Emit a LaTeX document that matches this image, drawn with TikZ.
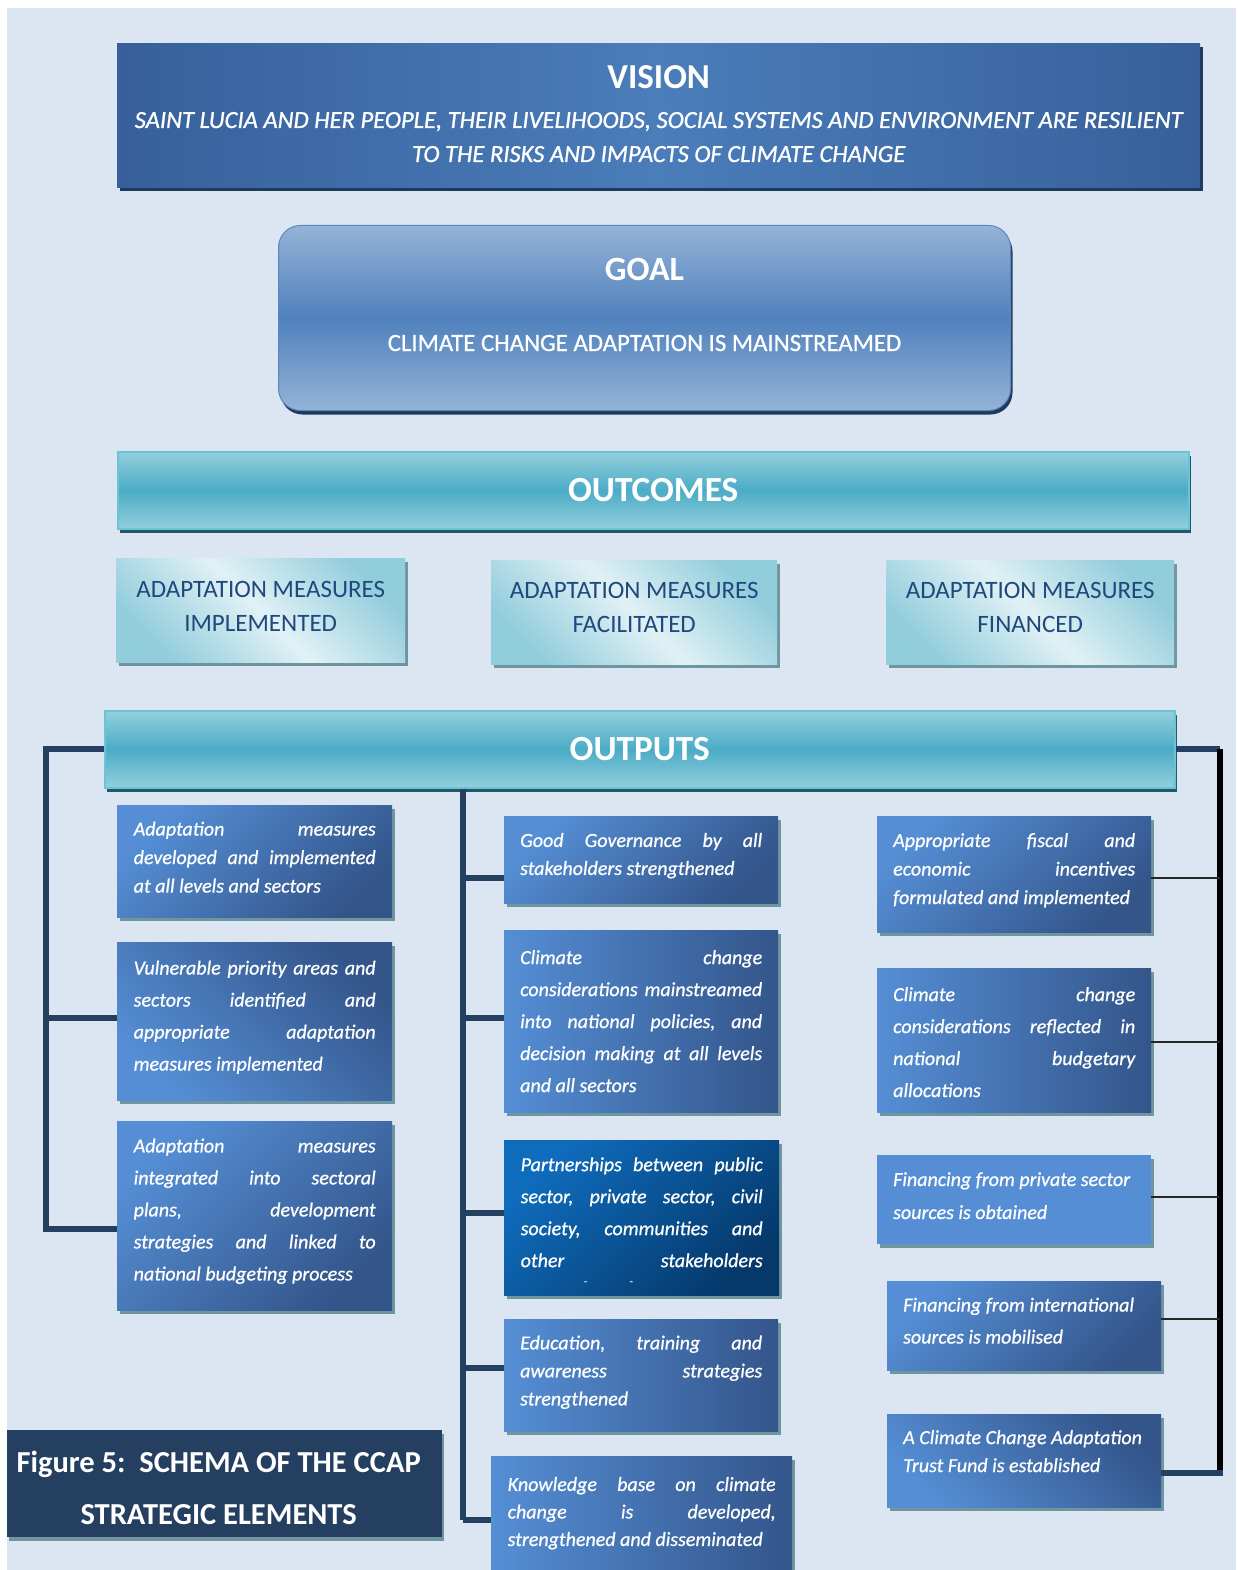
\documentclass[tikz,border=0pt]{standalone}
\usepackage{fontspec}
\setmainfont{Carlito}
\newfontfamily\medfam{Carlito}[FakeBold=0.7]
\newfontfamily\semifam{Carlito}[FakeBold=1.0]
\usetikzlibrary{shadows,calc}
\definecolor{bgc}{HTML}{DCE6F2}
\definecolor{navy}{HTML}{243F60}
\definecolor{visdark}{HTML}{37609A}
\definecolor{vislight}{HTML}{4A7DBA}
\definecolor{visshadow}{HTML}{1F3A5F}
\definecolor{goaltop}{HTML}{95B3D7}
\definecolor{goalmid}{HTML}{4F81BD}
\definecolor{goaledge}{HTML}{5A86BC}
\definecolor{barlight}{HTML}{93CFDD}
\definecolor{barmid}{HTML}{4BACC6}
\definecolor{baredge}{HTML}{6CC3D6}
\definecolor{barshadow}{HTML}{215968}
\definecolor{octeal}{HTML}{92CDDC}
\definecolor{oclight}{HTML}{E1F1F5}
\definecolor{octext}{HTML}{1F497D}
\definecolor{lightb}{HTML}{558ED5}
\definecolor{darkb}{HTML}{33558A}
\definecolor{deepa}{HTML}{0F6CBD}
\definecolor{deepb}{HTML}{05396B}
\definecolor{shadc}{HTML}{6F96A0}
\newcommand\jl[2][242pt]{\leavevmode\hbox to #1{\frenchspacing\spaceskip=0pt\xspaceskip=0pt #2}}
\newcommand\nl[1]{\leavevmode\hbox{\frenchspacing\spaceskip=0pt\xspaceskip=0pt #1}}
\newcommand\upby[1]{\par\vspace*{#1}}
\tikzset{
  boxbase/.style={rectangle, inner sep=0pt, anchor=north west},
  obox/.style={boxbase, text=white, align=left, text width=242pt,
    drop shadow={shadow xshift=3pt, shadow yshift=-4pt, fill=shadc, opacity=1}},
  lsk/.style={font=\medfam\itshape\fontsize{20}{#1}\selectfont},
  tlbr/.style={top color=lightb, bottom color=darkb, shading angle=45},
  bltr/.style={top color=darkb, bottom color=lightb, shading angle=-45},
  horiz/.style={left color=lightb, right color=darkb},
  flat/.style={fill=lightb},
  deep/.style={top color=deepa, bottom color=deepb, shading angle=45},
  bar/.style={boxbase, top color=barlight, bottom color=barlight, middle color=barmid,
    draw=baredge, line width=1.5pt, text=white, font=\bfseries\fontsize{35.3}{35}\selectfont,
    drop shadow={shadow xshift=2pt, shadow yshift=-4pt, fill=barshadow, opacity=1}},
  ocbox/.style={boxbase, top color=octeal, bottom color=octeal, middle color=oclight,
    shading angle=-45, text=octext, align=center, text width=280pt, font=\fontsize{25}{34}\selectfont,
    drop shadow={shadow xshift=3pt, shadow yshift=-4pt, fill=shadc, opacity=1}},
  navyline/.style={draw=navy, line width=6pt},
  blackline/.style={draw=black, line width=6pt},
  thinline/.style={draw=black!85, line width=1.8pt},
}
\begin{document}
\begin{tikzpicture}[x=1pt,y=-1pt]
\useasboundingbox (0,0) rectangle (1238,1570);
\fill[white] (0,0) rectangle (1238,1570);
\fill[bgc] (7,8) rectangle (1236,1575);

% VISION
\node[boxbase, minimum width=1083pt, minimum height=144pt,
  left color=visdark, right color=visdark, middle color=vislight,
  drop shadow={shadow xshift=3pt, shadow yshift=-4pt, fill=visshadow, opacity=1}]
  (vision) at (117,43) {};
\node[anchor=base, text=white, font=\bfseries\fontsize{35}{35}\selectfont]
  (visiont) at ($(vision.north)+(0,46)$) {VISION};
\node[anchor=base, text=white, font=\semifam\itshape\fontsize{24.6}{24}\selectfont]
  (visiona) at ($(vision.north)+(0,85)$) {SAINT LUCIA AND HER PEOPLE, THEIR LIVELIHOODS, SOCIAL SYSTEMS AND ENVIRONMENT ARE RESILIENT};
\node[anchor=base, text=white, font=\semifam\itshape\fontsize{24.6}{24}\selectfont]
  (visionb) at ($(vision.north)+(0,119)$) {TO THE RISKS AND IMPACTS OF CLIMATE CHANGE};

% GOAL
\node[boxbase, minimum width=732pt, minimum height=185pt, rounded corners=22pt,
  top color=goaltop, bottom color=goaltop, middle color=goalmid, draw=goaledge, line width=1pt,
  drop shadow={shadow xshift=2pt, shadow yshift=-4pt, fill=visshadow, opacity=1}]
  (goal) at (278,225) {};
\node[anchor=base, text=white, font=\bfseries\fontsize{34}{34}\selectfont]
  (goalt) at ($(goal.north)+(0,55)$) {GOAL};
\node[anchor=base, text=white, font=\medfam\fontsize{24.8}{24.8}\selectfont]
  (goala) at ($(goal.north)+(0,126)$) {CLIMATE CHANGE ADAPTATION IS MAINSTREAMED};

% OUTCOMES
\node[bar, minimum width=1071pt, minimum height=77pt] (outcomes) at (117,451) {OUTCOMES};
\node[ocbox, minimum width=289pt, minimum height=104pt] (oc1) at (116,558) {\nl{ADAPTATION MEASURES}\\\nl{IMPLEMENTED}\upby{8pt}};
\node[ocbox, minimum width=286pt, minimum height=104pt] (oc2) at (491,560) {\nl{ADAPTATION MEASURES}\\\nl{FACILITATED}\upby{10pt}};
\node[ocbox, minimum width=288pt, minimum height=104pt] (oc3) at (886,560) {\nl{ADAPTATION MEASURES}\\\nl{FINANCED}\upby{10pt}};

% OUTPUTS
\node[bar, minimum width=1070pt, minimum height=77pt] (outputs) at (104,710) {OUTPUTS};

% left column
\node[obox, tlbr, lsk=28.5, minimum width=275pt, minimum height=112pt] (L1) at (117,805)
  {\jl{Adaptation measures}\\\jl{developed and implemented}\\\nl{at all levels and sectors}\upby{8pt}};
\node[obox, bltr, lsk=32, minimum width=275pt, minimum height=158pt] (L2) at (117,942)
  {\jl{Vulnerable priority areas and}\\\jl{sectors identified and}\\\jl{appropriate adaptation}\\\nl{measures implemented}\upby{8pt}};
\node[obox, tlbr, lsk=32, minimum width=275pt, minimum height=189pt] (L3) at (117,1121)
  {\jl{Adaptation measures}\\\jl{integrated into sectoral}\\\jl{plans, development}\\\jl{strategies and linked to}\\\nl{national budgeting process}\upby{9pt}};

% middle column
\node[obox, tlbr, lsk=28, minimum width=274pt, minimum height=87pt] (M1) at (504,816)
  {\jl{Good Governance by all}\\\nl{stakeholders strengthened}\upby{8pt}};
\node[obox, horiz, lsk=32, minimum width=274pt, minimum height=182pt] (M2) at (504,930)
  {\jl{Climate change}\\\jl{considerations mainstreamed}\\\jl{into national policies, and}\\\jl{decision making at all levels}\\\nl{and all sectors}};
\node[obox, deep, lsk=32, minimum width=275pt, minimum height=155pt] (M3) at (504,1140)
  {\jl{Partnerships between public}\\\jl{sector, private sector, civil}\\\jl{society, communities and}\\\jl{other stakeholders}\\[-14pt]\nl{\fontsize{12}{12}\selectfont\hspace*{63pt}-\hspace*{42pt}-}\upby{-7pt}};
\node[obox, horiz, lsk=28, minimum width=274pt, minimum height=112pt] (M4) at (504,1319)
  {\jl{Education, training and}\\\jl{awareness strategies}\\\nl{strengthened}\upby{6pt}};
\node[obox, horiz, lsk=27.5, minimum width=301pt, minimum height=114pt, text width=268pt] (M5) at (491,1456)
  {\jl[268pt]{Knowledge base on climate}\\\jl[268pt]{change is developed,}\\\nl{strengthened and disseminated}};

% right column
\node[obox, tlbr, lsk=28.5, minimum width=274pt, minimum height=116pt] (R1) at (877,816)
  {\jl{Appropriate fiscal and}\\\jl{economic incentives}\\\nl{formulated and implemented}\upby{8pt}};
\node[obox, horiz, lsk=32, minimum width=274pt, minimum height=144pt] (R2) at (877,968)
  {\jl{Climate change}\\\jl{considerations reflected in}\\\jl{national budgetary}\\\nl{allocations}\upby{-4pt}};
\node[obox, flat, lsk=33, minimum width=274pt, minimum height=89pt] (R3) at (877,1155)
  {\nl{Financing from private sector}\\\nl{sources is obtained}\upby{8pt}};
\node[obox, tlbr, lsk=32, minimum width=274pt, minimum height=89pt] (R4) at (887,1281)
  {\nl{Financing from international}\\\nl{sources is mobilised}\upby{10pt}};
\node[obox, bltr, lsk=28, minimum width=274pt, minimum height=93pt] (R5) at (887,1414)
  {\nl{A Climate Change Adaptation}\\\nl{Trust Fund is established}\upby{19pt}};

% caption
\node[boxbase, minimum width=435pt, minimum height=107pt, fill=navy,
  drop shadow={shadow xshift=2pt, shadow yshift=-4pt, fill=shadc, opacity=1}]
  (caption) at (7,1430) {};
\node[anchor=base, text=white, font=\bfseries\fontsize{30.5}{30}\selectfont]
  (captiona) at ($(caption.north)+(-6,42)$) {Figure 5:\ \ SCHEMA OF THE CCAP};
\node[anchor=base, text=white, font=\bfseries\fontsize{30.5}{30}\selectfont]
  (captionb) at ($(caption.north)+(-6,94)$) {STRATEGIC ELEMENTS};

% connectors
\coordinate (lbus) at (46,0);
\coordinate (mbus) at (463,0);
\coordinate (rbus) at (1220,0);
\coordinate (l2p) at ([yshift=3pt]L2.west);
\coordinate (l3p) at ([yshift=-13pt]L3.west);
\coordinate (m1p) at ([yshift=-18pt]M1.west);
\coordinate (m2p) at ([yshift=3pt]M2.west);
\coordinate (m3p) at ([yshift=5pt]M3.west);
\coordinate (m4p) at ([yshift=7pt]M4.west);
\coordinate (m5p) at ([yshift=-7pt]M5.west);
\coordinate (r1p) at ([yshift=-4pt]R1.east);
\coordinate (r2p) at ([yshift=-2pt]R2.east);
\coordinate (r3p) at ([yshift=3pt]R3.east);
\coordinate (r4p) at ([yshift=7pt]R4.east);
\coordinate (r5p) at ([yshift=-12pt]R5.east);

\draw[navyline] (outputs.west) -| (lbus |- l3p) -- (l3p);
\draw[navyline] (lbus |- l2p) -- (l2p);

\draw[navyline] (mbus |- outputs.south) -- (mbus |- m5p);
\foreach \p in {m1p,m2p,m3p,m4p,m5p} \draw[navyline] (mbus |- \p) -- (\p);

\draw[navyline] (outputs.east) -- (rbus |- outputs.east);
\draw[blackline] (rbus |- outputs.east) -- (rbus |- r5p);
\draw[navyline] (r5p) -- ($(rbus |- r5p)+(3,0)$);
\foreach \p in {r1p,r2p,r3p,r4p} \draw[thinline] (\p) -- (rbus |- \p);
\end{tikzpicture}
\end{document}
